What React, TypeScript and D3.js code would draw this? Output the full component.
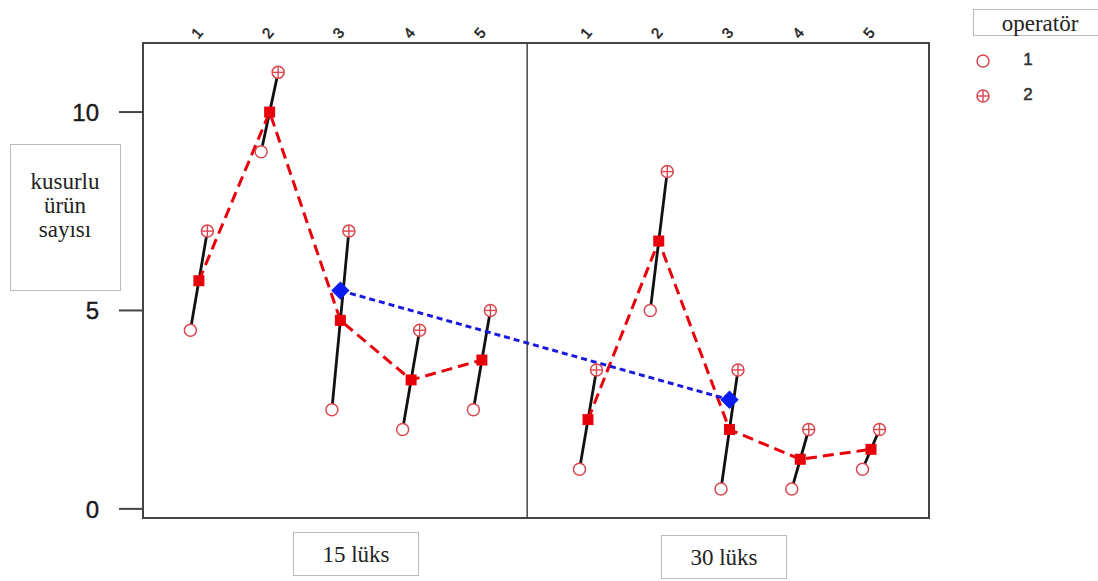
import React from 'react';
import * as d3 from 'd3';

// parça (part) numbers on the top axis
const parts = ['1', '2', '3', '4', '5'];
// light level panels
const panels = ['15 lüks', '30 lüks'];
// defective counts per operator, per panel
const op1Values = [
    [4.5, 9, 2.5, 2, 2.5],
    [1, 5, 0.5, 0.5, 1],
];
const op2Values = [
    [7, 11, 7, 4.5, 5],
    [3.5, 8.5, 3.5, 2, 2],
];
const yTicks = [0, 5, 10];
const yTitle = ['kusurlu', 'ürün', 'sayısı'];
const legendTitle = 'operatör';
const operators = ['1', '2'];

const width = 1098;
const height = 581;
const red = '#e8000b';
const ptRed = '#d9474f';
const sans = 'Liberation Sans, Arial, sans-serif';
const serif = 'Liberation Serif, Times New Roman, serif';

const App = () => {
    // position units: panel p, part i -> i + 1 + p * 5.5
    const x = d3.scaleLinear().domain([0.21, 11.32]).range([143, 929]);
    const y = d3.scaleLinear().domain([-0.23, 11.74]).range([518, 43]);
    const off = 0.12;
    const gx = (p: number, i: number) => i + 1 + p * 5.5;

    const dashed = d3.line<[number, number]>().x(d => x(d[0])).y(d => y(d[1]));

    const means = panels.map((_, p) => parts.map((_, i) => (op1Values[p][i] + op2Values[p][i]) / 2));
    const grand = means.map(m => d3.mean(m) as number);
    const mid = (p: number) => gx(p, 2);

    const circle = (cx: number, cy: number, key: string) => (
        <circle key={key} cx={cx} cy={cy} r={6} fill="white" stroke={ptRed} strokeWidth={1.5} />
    );
    const plusCircle = (cx: number, cy: number, key: string) => (
        <g key={key}>
            <circle cx={cx} cy={cy} r={6} fill="white" stroke={ptRed} strokeWidth={1.5} />
            <line x1={cx - 6} x2={cx + 6} y1={cy} y2={cy} stroke={ptRed} strokeWidth={1.4} />
            <line x1={cx} x2={cx} y1={cy - 6} y2={cy + 6} stroke={ptRed} strokeWidth={1.4} />
        </g>
    );

    return (
        <svg width={width} height={height} style={{ position: 'absolute', left: 0, top: 0, background: 'white' }}>
            {/* frame */}
            <rect x={x(0.21)} y={y(11.74)} width={x(11.32) - x(0.21)} height={y(-0.23) - y(11.74)}
                fill="none" stroke="#444" strokeWidth={2} />
            <line x1={x(5.64)} x2={x(5.64)} y1={y(11.74)} y2={y(-0.23)} stroke="#444" strokeWidth={1.5} />

            {/* y axis */}
            {yTicks.map(t => (
                <g key={t}>
                    <line x1={119} x2={143} y1={y(t)} y2={y(t)} stroke="#444" strokeWidth={2} />
                    <text x={99} y={y(t)} dy="0.36em" textAnchor="end" fontSize={24}
                        fontFamily={sans} fill="#1a1a1a" stroke="#1a1a1a" strokeWidth={0.4}>{t}</text>
                </g>
            ))}

            {/* top axis labels */}
            {panels.map((_, p) => parts.map((lab, i) => (
                <text key={p + '-' + i} transform={`translate(${x(gx(p, i)) - 2},33) rotate(-50)`}
                    textAnchor="middle" dy="0.35em" fontSize={15}
                    fontFamily={sans} fill="#222" stroke="#222" strokeWidth={0.5}>{lab}</text>
            )))}

            {/* operator segments */}
            {panels.map((_, p) => parts.map((_, i) => (
                <line key={'s' + p + i}
                    x1={x(gx(p, i) - off)} y1={y(op1Values[p][i])}
                    x2={x(gx(p, i) + off)} y2={y(op2Values[p][i])}
                    stroke="#111" strokeWidth={2.8} />
            )))}

            {/* mean lines */}
            {panels.map((_, p) => (
                <path key={'m' + p}
                    d={dashed(means[p].map((m, i) => [gx(p, i), m] as [number, number])) || ''}
                    fill="none" stroke={red} strokeWidth={3} strokeDasharray="11,6" />
            ))}
            <path d={dashed(panels.map((_, p) => [mid(p), grand[p]] as [number, number])) || ''}
                fill="none" stroke="#1a1adf" strokeWidth={3} strokeDasharray="6,4" />

            {/* operator points */}
            {panels.map((_, p) => parts.map((_, i) => [
                circle(x(gx(p, i) - off), y(op1Values[p][i]), 'c' + p + i),
                plusCircle(x(gx(p, i) + off), y(op2Values[p][i]), 'p' + p + i),
            ]))}

            {/* mean squares */}
            {panels.map((_, p) => means[p].map((m, i) => (
                <rect key={'q' + p + i} x={x(gx(p, i)) - 5.5} y={y(m) - 5.5} width={11} height={11} fill={red} />
            )))}

            {/* grand mean diamonds */}
            {panels.map((_, p) => (
                <rect key={'d' + p} x={-6.5} y={-6.5} width={13} height={13} fill="#0a1cf0"
                    transform={`translate(${x(mid(p))},${y(grand[p])}) rotate(45)`} />
            ))}

            {/* y title box */}
            <rect x={10.5} y={144.5} width={110} height={146} fill="white" stroke="#bbb" />
            {yTitle.map((t, i) => (
                <text key={t} x={65} y={189 + i * 24} textAnchor="middle" fontSize={23}
                    fontFamily={serif} fill="#222">{t}</text>
            ))}

            {/* panel labels */}
            {panels.map((lab, p) => {
                const cx = p === 0 ? 356 : 724;
                const cy = p === 0 ? 554 : 557;
                return (
                    <g key={lab}>
                        <rect x={cx - 62.5} y={cy - 21.5} width={125} height={43} fill="white" stroke="#bbb" />
                        <text x={cx} y={cy} dy="0.35em" textAnchor="middle" fontSize={23}
                            fontFamily={serif} fill="#222">{lab}</text>
                    </g>
                );
            })}

            {/* legend */}
            <rect x={973.5} y={9.5} width={130} height={26} fill="white" stroke="#bbb" />
            <text x={1040} y={23} dy="0.33em" textAnchor="middle" fontSize={23}
                fontFamily={serif} fill="#222">{legendTitle}</text>
            {operators.map((op, i) => (
                <g key={op}>
                    {i === 0 ? circle(983, 61 + i * 35, 'lc') : plusCircle(983, 61 + i * 35, 'lp')}
                    <text x={1028} y={59 + i * 35} dy="0.35em" textAnchor="middle" fontSize={17}
                        fontFamily={sans} fill="#333" stroke="#333" strokeWidth={0.5}>{op}</text>
                </g>
            ))}
        </svg>
    );
};

export default App;
